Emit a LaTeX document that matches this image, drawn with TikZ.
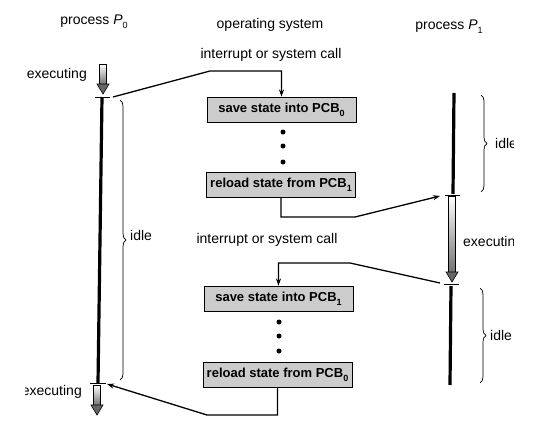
\documentclass[tikz,border=0pt]{standalone}
\usepackage{fontspec}
\setmainfont{Liberation Sans}
\usetikzlibrary{arrows.meta,decorations.pathreplacing}
\newcommand\lowidx[1]{\raisebox{-0.3em}{\fontsize{9}{9}\selectfont #1}}
% hollow, shaded run arrow: x, top of shaft, tip
\newcommand\runarrow[3]{%
  \shade[top color=white, bottom color=black!55, draw=black, line width=0.6pt]
    (#1-3.5,#2) rectangle (#1+3.5,#3-10);
  \filldraw[fill=black!60, line width=0.6pt]
    (#1-6,#3-10) -- (#1+6,#3-10) -- (#1,#3) -- cycle;}

\begin{document}
\begin{tikzpicture}[x=1pt,y=-1pt,
  lbl/.style={font=\fontsize{14}{16}\selectfont, inner sep=0pt},
  statebox/.style={draw, line width=0.9pt, fill=black!20, minimum width=149pt,
    minimum height=25pt, inner sep=0pt, font=\bfseries\fontsize{13}{16}\selectfont},
  conn/.style={line width=1.3pt},
  tipped/.style={conn, -{Stealth[length=7pt,width=5pt]}},
  timeline/.style={line width=3.2pt},
  tick/.style={line width=0.7pt},
  idlebrace/.style={decorate, decoration={brace, amplitude=6pt}, line width=0.7pt},
  dot/.style={circle, fill=black, inner sep=0pt, minimum size=5pt}
]
\useasboundingbox (0,0) rectangle (542,423);
\clip (25,0) rectangle (513,423);

% column titles
\node[lbl] (p0title) at (94,22) {process {\itshape P}\lowidx{0}};
\node[lbl] (ostitle) at (270,25) {operating system};
\node[lbl] (p1title) at (449,27) {process {\itshape P}\lowidx{1}};

% labels
\node[lbl] (irq1) at (271,55) {interrupt or system call};
\node[lbl, anchor=east] (exec0) at (87,75) {executing};
\node[lbl, anchor=west] (idle0) at (130,235) {idle};
\node[lbl] (irq2) at (267,240) {interrupt or system call};
\node[lbl, anchor=west] (exec1) at (463,243) {executing};
\node[lbl, anchor=west] (idle1a) at (495,143) {idle};
\node[lbl, anchor=west] (idle1b) at (490,335) {idle};
\node[lbl, anchor=east] (exec0b) at (82,392) {executing};

% operating system actions
\node[statebox] (save0) at (281.5,109.5) {save state into PCB\lowidx{0}};
\node[statebox] (reload1) at (281,184.5) {reload state from PCB\lowidx{1}};
\node[statebox] (save1) at (278.5,298.5) {save state into PCB\lowidx{1}};
\node[statebox] (reload0) at (277.5,375) {reload state from PCB\lowidx{0}};

\foreach \y in {132,146,162} \node[dot] at (283,\y) {};
\foreach \y in {322,336,351} \node[dot] at (279,\y) {};

% process P0 timeline
\runarrow{103}{64}{94}
\draw[tick] (95,97) -- (110,97);
\draw[timeline] (102,97) -- (98,383);
\draw[tick] (90,383) -- (106,383);
\runarrow{97}{385}{415}
\draw[idlebrace] (120,100) -- (120,380);

% process P1 timeline
\draw[timeline] (454,93) -- (453,194);
\draw[tick] (445,195) -- (460,195);
\runarrow{452}{196}{282}
\draw[tick] (444,284) -- (459,284);
\draw[timeline] (451,286) -- (450,385);
\draw[idlebrace] (481,95) -- (481,192);
\draw[idlebrace] (480,288) -- (480,383);

% switch points
\coordinate (p0stop) at (113,97);
\coordinate (p1start) at (440,196);
\coordinate (p1stop) at (440,283);
\coordinate (p0resume) at (107,384);

% control transfers
\draw[tipped] (p0stop) -- (210,71) -| (save0.north);
\draw[tipped] (reload1.south) |- (355,217) -- (p1start);
\draw[tipped] (p1stop) -- (350,263) -| (save1.north);
\draw[tipped] (reload0.south) |- (207,415) -- (p0resume);
\end{tikzpicture}
\end{document}
